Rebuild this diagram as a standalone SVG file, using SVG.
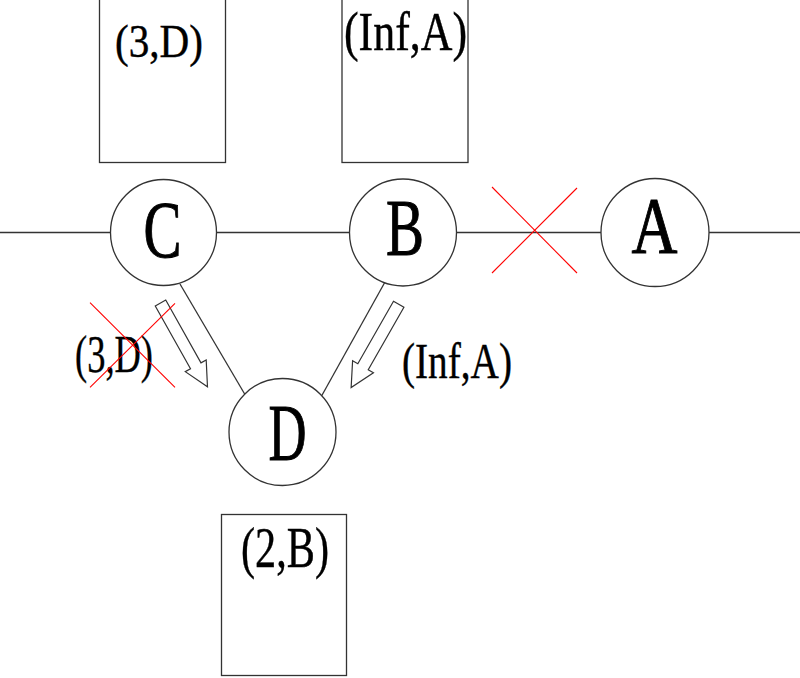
<svg xmlns="http://www.w3.org/2000/svg" width="800" height="678" viewBox="0 0 800 678">
<style>
.ln{stroke:#333;stroke-width:1.3;fill:none}
.node{fill:#fff;stroke:#333;stroke-width:1.3}
.box{fill:#fff;stroke:#333;stroke-width:1.3}
.x{stroke:#f00;stroke-width:1.1;fill:none}
.arr{fill:#fff;stroke:#333;stroke-width:1.2;stroke-linejoin:miter}
text{font-family:"Liberation Serif","Times New Roman",serif;fill:#000;stroke:#000;stroke-width:0.4}
.lt{font-size:80px;text-anchor:middle;stroke-width:1}
</style>
<defs>
<polygon id="hollowArrow" points="-6,0 6,0 6,72 12,72 0,96 -12,72 -6,72"/>
</defs>
<rect width="800" height="678" fill="#fff"/>
<g id="connectors">
<line class="ln" x1="0" y1="232.5" x2="111" y2="232.5"/>
<line class="ln" x1="216" y1="232.5" x2="349" y2="232.5"/>
<line class="ln" x1="457" y1="232.5" x2="601" y2="232.5"/>
<line class="ln" x1="709" y1="232.5" x2="800" y2="232.5"/>
<line class="ln" x1="180" y1="284" x2="247" y2="398"/>
<line class="ln" x1="385" y1="282" x2="321" y2="397"/>
</g>
<g id="cross-BA">
<line class="x" x1="492" y1="187" x2="577" y2="273"/>
<line class="x" x1="577" y1="188" x2="492" y2="273"/>
</g>
<g id="arrow-CD">
<use href="#hollowArrow" class="arr" transform="translate(160.5,303) rotate(-29.3)"/>
</g>
<g id="arrow-BD">
<use href="#hollowArrow" class="arr" transform="translate(398.7,304.2) rotate(29.7)"/>
</g>
<g id="box-C">
<rect class="box" x="99.5" y="-1" width="126" height="163.5"/>
<text x="115" y="57" font-size="46" textLength="88" lengthAdjust="spacingAndGlyphs">(3,D)</text>
</g>
<g id="box-B">
<rect class="box" x="342" y="-1" width="126" height="163.5"/>
<text x="344" y="50" font-size="54" textLength="123" lengthAdjust="spacingAndGlyphs">(Inf,A)</text>
</g>
<g id="box-D">
<rect class="box" x="221.5" y="514.5" width="125" height="161"/>
<text x="241" y="567" font-size="56" textLength="88" lengthAdjust="spacingAndGlyphs">(2,B)</text>
</g>
<g id="node-C">
<circle class="node" cx="163.5" cy="232.5" r="53"/>
<text class="lt" x="162.5" y="257" textLength="38" lengthAdjust="spacingAndGlyphs">C</text>
</g>
<g id="node-B">
<circle class="node" cx="403" cy="232.5" r="53.5"/>
<text class="lt" x="405" y="255" textLength="38" lengthAdjust="spacingAndGlyphs">B</text>
</g>
<g id="node-A">
<circle class="node" cx="655" cy="232.5" r="54"/>
<text class="lt" x="654.5" y="253" font-size="83" stroke-width="1.8" textLength="46" lengthAdjust="spacingAndGlyphs">A</text>
</g>
<g id="node-D">
<circle class="node" cx="282.5" cy="432" r="53.5"/>
<text class="lt" x="287.5" y="460" textLength="38" lengthAdjust="spacingAndGlyphs">D</text>
</g>
<g id="label-CD">
<text x="75" y="372" font-size="52" textLength="78" lengthAdjust="spacingAndGlyphs">(3,D)</text>
<line class="x" x1="90" y1="302.7" x2="175" y2="387.3"/>
<line class="x" x1="175" y1="303.3" x2="90" y2="387.3"/>
</g>
<g id="label-BD">
<text x="402" y="378" font-size="50" textLength="110" lengthAdjust="spacingAndGlyphs">(Inf,A)</text>
</g>
</svg>
